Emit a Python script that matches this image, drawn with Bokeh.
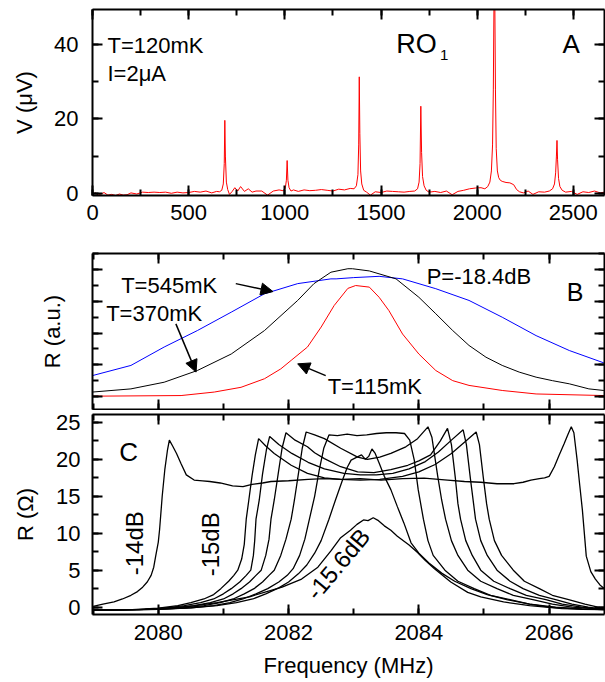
import math
from bokeh.plotting import figure
from bokeh.models import LinearAxis, Range1d, Label, Arrow, NormalHead, SingleIntervalTicker
from bokeh.layouts import column
from bokeh.embed import file_html
from bokeh.resources import INLINE

FONT = "Liberation Sans"

# ---------------- Panel A data: V (uV) vs frequency (MHz) ----------------
a_freq = [0, 15, 30, 45, 60, 80, 100, 120, 140, 160, 180, 200, 230, 260, 290, 320, 350, 380, 410, 440,
          470, 500, 530, 560, 590, 620, 645, 660, 672, 680, 685, 688, 691, 696, 703, 712, 725, 740, 755, 770,
          790, 810, 830, 850, 880, 910, 940, 970, 990, 1002, 1008, 1012, 1016, 1022, 1032, 1045, 1070, 1100,
          1130, 1160, 1190, 1220, 1250, 1280, 1310, 1340, 1360, 1372, 1380, 1384, 1387, 1390, 1394, 1400,
          1410, 1425, 1445, 1470, 1500, 1530, 1560, 1590, 1620, 1650, 1675, 1690, 1698, 1703, 1707, 1711,
          1716, 1724, 1735, 1750, 1780, 1810, 1840, 1870, 1900, 1930, 1960, 1990, 2020, 2040, 2055, 2066,
          2074, 2080, 2084, 2086, 2088, 2090, 2092, 2095, 2099, 2105, 2112, 2120, 2130, 2150, 2170, 2190,
          2205, 2220, 2240, 2265, 2290, 2320, 2350, 2375, 2392, 2402, 2408, 2412, 2415, 2418, 2423, 2430,
          2442, 2460, 2490, 2520, 2550, 2580, 2610, 2640, 2660]
a_volt = [-0.4, 0.1, -0.5, -0.2, 0.2, -0.5, -0.3, -0.6, -0.2, -0.5, -0.4, 0.1, -0.2, 0.3, 0.2, 0.3, 0.2, 0.3, 0.0, 0.3,
          0.1, 0.2, 0.5, 0.3, 0.6, 0.1, 0.5, 0.4, 0.8, 2.5, 8.0, 19.6, 10.0, 3.0, 1.0, -0.3, 0.4, 1.5, 0.6, 1.8,
          0.5, 1.2, 0.3, 0.6, 0.6, -0.5, 0.6, 0.9, 0.7, 1.2, 3.5, 8.8, 3.5, 1.5, 0.6, 0.9, 0.5, 0.9,
          0.7, 0.8, 1.0, 0.8, 0.6, 1.1, 0.9, 1.3, 1.2, 2.0, 5.0, 13.0, 31.3, 16.0, 6.0, 2.5,
          0.8, 0.3, -0.5, 0.4, 0.2, 0.6, 0.5, 0.4, 0.3, 0.5, 0.6, 1.2, 3.0, 8.0, 23.4, 11.0,
          4.5, 2.0, 0.8, 0.3, 0.5, 0.2, 0.6, -0.4, 0.5, 0.8, 1.2, 1.4, 1.5, 1.2, 1.8, 3.0,
          6.0, 13.0, 28.0, 42.0, 55.0, 58.0, 50.0, 28.0, 12.0, 6.0, 4.2, 3.5, 3.2, 2.9, 2.8, 2.3,
          1.0, 0.4, 0.1, 0.6, -0.3, 0.4, 0.3, 0.6, 1.2, 2.5, 5.5, 10.0, 14.2, 9.0, 4.0, 1.8,
          0.8, 0.3, 0.5, -0.3, 0.4, 0.2, 0.6, 0.1, 0.3]

# ---------------- Panel B data: R (a.u.) vs frequency (MHz) ----------------
b545_freq = [2078.99, 2079.58, 2080.09, 2080.60, 2081.12, 2081.63, 2082.14, 2082.65, 2082.73, 2083.0, 2083.39,
             2083.75, 2084.26, 2084.77, 2085.28, 2085.80, 2086.31, 2086.84]
b545_r = [0.66, 0.98, 1.56, 2.08, 2.66, 3.24, 3.56, 3.71, 3.71, 3.75, 3.79, 3.71, 3.40, 3.03, 2.50, 1.92, 1.45, 1.06]

b370_freq = [2078.99, 2079.58, 2080.09, 2080.60, 2081.12, 2081.63, 2082.14, 2082.39, 2082.65, 2082.91, 2082.98,
             2083.24, 2083.65, 2084.00, 2084.26, 2084.52, 2084.77, 2085.03, 2085.28, 2085.54, 2085.80, 2086.05,
             2086.31, 2086.61, 2086.84]
b370_r = [0.14, 0.24, 0.45, 0.82, 1.34, 2.08, 3.03, 3.56, 3.92, 4.03, 4.03, 3.96, 3.71, 3.13, 2.61, 2.08, 1.61,
          1.24, 0.98, 0.77, 0.61, 0.50, 0.40, 0.24, 0.19]

b115_freq = [2078.99, 2080.35, 2080.86, 2081.27, 2081.63, 2081.88, 2082.04, 2082.29, 2082.50, 2082.70, 2082.91,
             2083.03, 2083.24, 2083.39, 2083.54, 2083.75, 2084.00, 2084.26, 2084.52, 2084.77, 2085.28, 2085.80,
             2086.84]
b115_r = [0.01, 0.03, 0.14, 0.29, 0.56, 0.87, 1.14, 1.56, 2.19, 2.87, 3.41, 3.50, 3.45, 3.13, 2.71, 1.97, 1.34,
          0.82, 0.50, 0.35, 0.19, 0.08, 0.03]

# ---------------- Panel C data: R (Ohm) vs frequency (MHz), power sweep ----------------
c1_freq = [2079.0, 2079.8, 2080.4, 2080.9, 2081.4, 2081.9, 2082.2, 2082.45, 2082.65, 2082.8, 2082.95, 2083.05,
           2083.15, 2083.22, 2083.3, 2083.38, 2083.47, 2083.57, 2083.67, 2083.85, 2083.98, 2084.1, 2084.24,
           2084.49, 2084.75, 2084.95, 2085.3, 2085.7, 2086.2, 2086.85]
c1_r = [-0.4, -0.3, 0.0, 0.6, 1.4, 2.7, 3.8, 5.4, 7.6, 9.4, 10.4, 11.2, 11.8, 11.7, 12.1, 11.7, 11.0, 10.4, 9.6,
        8.4, 7.4, 6.3, 5.2, 3.4, 2.0, 1.4, 0.7, 0.2, -0.2, -0.35]

c2_freq = [2079.0, 2079.9, 2080.5, 2080.9, 2081.2, 2081.45, 2081.65, 2081.85, 2082.0, 2082.15, 2082.28, 2082.4,
           2082.5, 2082.62, 2082.72, 2082.82, 2082.9, 2082.96, 2083.05, 2083.12, 2083.18, 2083.23, 2083.28,
           2083.33, 2083.39, 2083.47, 2083.57, 2083.67, 2083.77, 2083.88, 2084.0, 2084.15, 2084.35, 2084.55,
           2084.8, 2085.05, 2085.35, 2085.7, 2086.1, 2086.5, 2086.85]
c2_r = [-0.4, -0.3, -0.1, 0.2, 0.6, 1.1, 1.8, 2.6, 3.4, 4.5, 5.7, 7.3, 9.0, 11.9, 14.5, 17.0, 18.9, 19.9, 20.3,
        20.6, 20.0, 20.4, 21.4, 20.8, 19.5, 17.7, 15.9, 13.6, 11.4, 8.7, 7.3, 6.0, 4.6, 3.5, 2.5, 1.7, 1.0, 0.4,
        0.0, -0.25, -0.35]

c3_freq = [2079.0, 2080.0, 2080.5, 2080.85, 2081.1, 2081.3, 2081.5, 2081.68, 2081.85, 2081.98, 2082.07, 2082.17,
           2082.25, 2082.32, 2082.40, 2082.47, 2082.54, 2082.62, 2082.75, 2082.9, 2083.05, 2083.2, 2083.35,
           2083.5, 2083.65, 2083.78, 2083.86, 2083.93, 2083.99, 2084.07, 2084.14, 2084.22, 2084.4, 2084.6,
           2084.85, 2085.1, 2085.4, 2085.7, 2086.0, 2086.5, 2086.85]
c3_r = [-0.4, -0.3, -0.1, 0.2, 0.6, 1.1, 1.8, 2.5, 3.4, 4.3, 5.2, 7.0, 9.2, 11.9, 15.0, 18.5, 21.5, 23.3, 23.2,
        23.4, 23.2, 23.3, 23.5, 23.6, 23.6, 23.5, 22.6, 19.9, 15.9, 11.9, 9.0, 7.0, 5.0, 3.5, 2.5, 1.6, 1.0, 0.4,
        0.0, -0.3, -0.35]

c4_freq = [2079.0, 2080.0, 2080.4, 2080.7, 2080.95, 2081.15, 2081.32, 2081.47, 2081.6, 2081.7, 2081.78, 2081.88,
           2081.96, 2082.04, 2082.09, 2082.15, 2082.21, 2082.27, 2082.4, 2082.55, 2082.8, 2083.06, 2083.21,
           2083.4, 2083.57, 2083.8, 2083.98, 2084.14, 2084.2, 2084.29, 2084.35, 2084.41, 2084.5, 2084.6,
           2084.75, 2084.95, 2085.2, 2085.45, 2085.75, 2086.05, 2086.35, 2086.85]
c4_r = [-0.4, -0.3, -0.1, 0.2, 0.6, 1.1, 1.8, 2.5, 3.4, 4.3, 5.0, 7.0, 9.2, 11.9, 14.5, 18.0, 21.5, 23.7, 23.3,
        22.8, 21.5, 20.3, 20.0, 20.3, 20.8, 21.7, 22.8, 24.4, 23.0, 17.7, 14.5, 11.9, 9.0, 7.0, 5.0, 3.5, 2.5,
        1.6, 1.0, 0.4, 0.0, -0.3]

c5_freq = [2079.0, 2079.8, 2080.2, 2080.55, 2080.8, 2081.0, 2081.15, 2081.27, 2081.4, 2081.5, 2081.58, 2081.65,
           2081.70, 2081.73, 2081.78, 2081.84, 2081.90, 2081.96, 2082.1, 2082.29, 2082.4, 2082.55, 2082.8,
           2083.06, 2083.31, 2083.57, 2083.83, 2084.0, 2084.18, 2084.33, 2084.44, 2084.5, 2084.56, 2084.6,
           2084.64, 2084.72, 2084.82, 2084.95, 2085.15, 2085.4, 2085.65, 2085.95, 2086.2, 2086.5, 2086.85]
c5_r = [-0.4, -0.3, -0.1, 0.2, 0.6, 1.1, 1.8, 2.5, 3.4, 4.3, 5.0, 7.0, 9.2, 11.9, 14.5, 18.0, 21.5, 23.6, 22.6,
        21.7, 20.9, 20.1, 19.0, 18.3, 18.2, 18.6, 19.2, 19.8, 20.6, 22.5, 24.2, 22.0, 17.5, 14.0, 11.9, 9.0, 7.0,
        5.0, 3.5, 2.5, 1.6, 1.0, 0.4, 0.0, -0.3]

c6_freq = [2079.0, 2079.7, 2080.1, 2080.4, 2080.65, 2080.85, 2081.0, 2081.12, 2081.25, 2081.35, 2081.42, 2081.46,
           2081.48, 2081.50, 2081.55, 2081.60, 2081.66, 2081.71, 2081.85, 2082.05, 2082.3, 2082.55, 2082.85,
           2083.1, 2083.35, 2083.6, 2083.85, 2084.1, 2084.3, 2084.5, 2084.68, 2084.73, 2084.79, 2084.84, 2084.87,
           2084.95, 2085.05, 2085.2, 2085.4, 2085.6, 2085.85, 2086.1, 2086.35, 2086.6, 2086.85]
c6_r = [-0.4, -0.35, -0.15, 0.2, 0.6, 1.1, 1.8, 2.5, 3.4, 4.3, 5.0, 7.0, 9.0, 11.9, 14.5, 18.0, 21.3, 23.1, 22.0,
        20.8, 19.6, 18.7, 18.1, 17.9, 17.9, 18.1, 18.7, 19.7, 21.0, 22.6, 24.0, 22.0, 17.5, 14.0, 11.9, 9.0, 7.0,
        5.0, 3.5, 2.5, 1.6, 1.0, 0.4, 0.0, -0.3]

c7_freq = [2079.0, 2079.6, 2080.0, 2080.3, 2080.5, 2080.7, 2080.85, 2080.96, 2081.08, 2081.16, 2081.22, 2081.28,
           2081.32, 2081.35, 2081.39, 2081.44, 2081.49, 2081.54, 2081.65, 2081.78, 2082.04, 2082.29, 2082.55,
           2082.8, 2083.1, 2083.4, 2083.75, 2084.0, 2084.25, 2084.5, 2084.7, 2084.88, 2084.93, 2084.99, 2085.04,
           2085.08, 2085.16, 2085.27, 2085.45, 2085.62, 2085.85, 2086.05, 2086.3, 2086.55, 2086.75, 2086.85]
c7_r = [-0.4, -0.35, -0.15, 0.2, 0.6, 1.1, 1.7, 2.5, 3.5, 4.3, 5.0, 6.5, 8.5, 11.9, 14.5, 17.8, 20.6, 22.8, 21.8,
        20.8, 19.2, 18.1, 17.5, 17.3, 17.2, 17.3, 17.7, 18.3, 19.3, 20.8, 22.3, 23.7, 22.0, 17.5, 14.0, 11.9, 9.0,
        7.0, 5.0, 3.5, 2.5, 1.6, 1.0, 0.4, 0.0, -0.2]

c8_freq = [2079.00, 2079.15, 2079.32, 2079.45, 2079.58, 2079.68, 2079.76, 2079.83, 2079.89, 2079.93, 2079.96,
           2080.00, 2080.02, 2080.06, 2080.10, 2080.14, 2080.17, 2080.22, 2080.28, 2080.35, 2080.43, 2080.55,
           2080.68, 2080.79, 2080.95, 2081.14, 2081.30, 2081.44, 2081.60, 2081.73, 2082.00, 2082.30, 2082.55,
           2082.80, 2083.10, 2083.42, 2083.75, 2084.08, 2084.44, 2084.70, 2084.95, 2085.20, 2085.46, 2085.60,
           2085.72, 2085.85, 2085.93, 2086.00, 2086.08, 2086.15, 2086.23, 2086.29, 2086.34, 2086.38, 2086.43,
           2086.47, 2086.51, 2086.57, 2086.64, 2086.71, 2086.78, 2086.85]
c8_r = [0.1, 0.4, 0.7, 1.1, 1.6, 2.1, 2.7, 3.4, 4.3, 5.4, 6.9, 8.8, 10.5, 15.0, 18.6, 21.2, 22.6, 21.8, 20.8, 19.4,
        17.9, 17.2, 17.1, 17.0, 16.8, 16.4, 16.3, 16.6, 16.8, 17.0, 17.1, 17.3, 17.4, 17.3, 17.4, 17.2, 17.4, 17.45,
        17.2, 17.0, 16.9, 16.7, 16.7, 16.9, 17.2, 17.4, 17.5, 17.7, 19.0, 20.5, 22.1, 23.4, 24.4, 23.6, 19.9, 16.5,
        13.2, 6.9, 4.8, 3.8, 3.0, 2.5]

c_curves = [(c1_freq, c1_r), (c2_freq, c2_r), (c3_freq, c3_r), (c4_freq, c4_r),
            (c5_freq, c5_r), (c6_freq, c6_r), (c7_freq, c7_r), (c8_freq, c8_r)]


def add_axis(p, side, interval, show_labels, label=None, label_standoff=12, title_standoff=15):
    ax = LinearAxis(ticker=SingleIntervalTicker(interval=interval, num_minor_ticks=2))
    ax.axis_line_width = 2
    ax.axis_line_color = "black"
    ax.major_tick_in = 10
    ax.major_tick_out = 0
    ax.minor_tick_in = 6
    ax.minor_tick_out = 0
    ax.major_tick_line_width = 2
    ax.minor_tick_line_width = 2
    ax.major_tick_line_color = "black"
    ax.minor_tick_line_color = "black"
    ax.major_label_text_font = FONT
    ax.major_label_text_font_size = "22px"
    if show_labels:
        ax.major_label_text_color = "black"
        ax.major_label_standoff = label_standoff
    else:
        ax.major_label_text_color = None
        ax.major_label_standoff = 0
    if label:
        ax.axis_label = label
        ax.axis_label_text_font = FONT
        ax.axis_label_text_font_size = "22px"
        ax.axis_label_text_font_style = "normal"
        ax.axis_label_text_color = "black"
        ax.axis_label_standoff = title_standoff
    p.add_layout(ax, side)
    return ax


def make_fig(height, xr, yr, btop, bbot):
    p = figure(width=605, height=height, x_range=Range1d(*xr), y_range=Range1d(*yr),
               x_axis_type=None, y_axis_type=None,
               output_backend="svg", toolbar_location=None,
               min_border_left=92, min_border_right=1, min_border_top=btop, min_border_bottom=bbot)
    p.outline_line_color = None
    p.background_fill_color = "white"
    p.border_fill_color = "white"
    return p


def add_label(p, x, y, text, size="22px", angle=0.0, align="left", baseline="alphabetic"):
    p.add_layout(Label(x=x, y=y, text=text, text_font=FONT, text_font_size=size, text_color="black",
                       angle=angle, text_align=align, text_baseline=baseline))


# ---------------- Panel A ----------------
pA = make_fig(240, (0, 2662), (-0.6, 49.4), 9, 45)
add_axis(pA, "below", 500, True, label_standoff=9)
add_axis(pA, "left", 20, True, label="V (\u03bcV)", label_standoff=14, title_standoff=14)
add_axis(pA, "above", 500, False)
add_axis(pA, "right", 20, False)
pA.line(a_freq, a_volt, line_color="#ff0000", line_width=1)
add_label(pA, 78, 39.8, "T=120mK")
add_label(pA, 78, 32.3, "I=2\u03bcA")
add_label(pA, 1579, 40.0, "RO", size="27px")
add_label(pA, 1807, 37.1, "1", size="15px")
add_label(pA, 2444, 40.0, "A", size="26px")

# ---------------- Panel B ----------------
pB = make_fig(170, (2078.99, 2086.85), (-0.41, 4.51), 13, 1)
add_axis(pB, "below", 2, False)
add_axis(pB, "left", 1, False, label="R (a.u.)", title_standoff=28)
add_axis(pB, "above", 2, False)
add_axis(pB, "right", 1, False)
pB.line(b545_freq, b545_r, line_color="#0000ff", line_width=1)
pB.line(b370_freq, b370_r, line_color="black", line_width=1)
pB.line(b115_freq, b115_r, line_color="#ff0000", line_width=1)
add_label(pB, 2079.43, 3.50, "T=545mK")
add_label(pB, 2079.20, 2.61, "T=370mK")
add_label(pB, 2084.12, 3.79, "P=-18.4dB")
add_label(pB, 2086.27, 3.29, "B", size="25px")
add_label(pB, 2082.60, 0.32, "T=115mK")
for xs, ys, xe, ye in [(2081.19, 3.56, 2081.76, 3.31), (2080.27, 2.29, 2080.58, 0.77),
                       (2082.57, 0.66, 2082.14, 1.03)]:
    pB.add_layout(Arrow(x_start=xs, y_start=ys, x_end=xe, y_end=ye, line_width=1.5, line_color="black",
                        end=NormalHead(size=12, fill_color="black", line_color="black")))

# ---------------- Panel C ----------------
pC = make_fig(270, (2078.99, 2086.85), (-1.0, 26.07), 4, 64)
add_axis(pC, "below", 2, True, label="Frequency (MHz)", label_standoff=10, title_standoff=10)
add_axis(pC, "left", 5, True, label="R (\u03a9)", label_standoff=12, title_standoff=15)
add_axis(pC, "above", 2, False)
add_axis(pC, "right", 5, False)
for fx, ry in c_curves:
    pC.line(fx, ry, line_color="black", line_width=1.3)
add_label(pC, 2079.40, 21.0, "C", size="26px")
add_label(pC, 2079.64, 8.65, "-14dB", size="24px", angle=math.pi / 2, align="center", baseline="middle")
add_label(pC, 2080.80, 8.5, "-15dB", size="24px", angle=math.pi / 2, align="center", baseline="middle")
add_label(pC, 2082.76, 5.83, "-15.6dB", size="24px", angle=math.radians(50), align="center", baseline="middle")

layout = column(pA, pB, pC, spacing=0)
open("out.html", "w").write(file_html(layout, INLINE))
